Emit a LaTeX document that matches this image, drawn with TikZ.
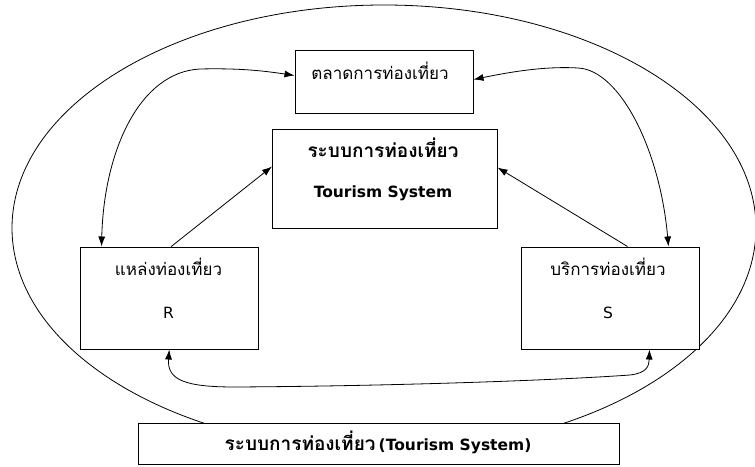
\documentclass[tikz,border=0pt]{standalone}
\usepackage{fontspec}
\setmainfont{DejaVu Sans}
\newfontfamily\thai[Script=Thai]{Loma}
\usetikzlibrary{arrows.meta,calc}
\begin{document}
\begin{tikzpicture}[x=1pt,y=-1pt,
  box/.style={draw,line width=1pt,fill=white,inner sep=0pt},
  conn/.style={line width=0.8pt,{Latex[length=10pt,width=7pt]}-{Latex[length=10pt,width=7pt]}},
  oneway/.style={line width=0.8pt,-{Latex[length=10pt,width=7pt]}},
  lbl/.style={inner sep=0pt,anchor=center},
  thr/.style={lbl,font=\thai\fontsize{17}{19}\selectfont},
  thb/.style={lbl,font=\thai\bfseries\fontsize{19}{21}\selectfont},
  lat/.style={lbl,font=\fontsize{15.5}{17}\selectfont},
  latb/.style={lbl,font=\bfseries\fontsize{15.5}{17}\selectfont}]
\useasboundingbox (0,0) rectangle (755,466);
\fill[white] (0,0) rectangle (755,466);
% outer ellipse
\draw[line width=0.8pt] (384,228) ellipse [x radius=372, y radius=223];
% boxes
\node[box,minimum width=178pt,minimum height=63pt] (market) at (384,81.5) {};
\node[box,minimum width=224.5pt,minimum height=99pt] (center) at (384.75,178.5) {};
\node[box,minimum width=178.5pt,minimum height=102pt] (R) at (169.25,298) {};
\node[box,minimum width=178pt,minimum height=102pt] (S) at (610,298) {};
\node[box,minimum width=481pt,minimum height=41pt] (bottom) at (378.5,444) {};
% texts
\node[thr] (tmarket) at (380,71) {ตลาดการท่องเที่ยว};
\node[thb] (tcenter1) at (383,148) {ระบบการท่องเที่ยว};
\node[latb] (tcenter2) at (383,193) {Tourism System};
\node[thr] (tR1) at (168.5,267) {แหล่งท่องเที่ยว};
\node[lat] (tR2) at (168.5,313) {R};
\node[thr] (tS1) at (608,267) {บริการท่องเที่ยว};
\node[lat] (tS2) at (608,313) {S};
\node[lbl] (tbottom) at (378,442) {{\thai\bfseries\fontsize{19}{21}\selectfont ระบบการท่องเที่ยว} {\bfseries\fontsize{15.5}{17}\selectfont(Tourism System)}};
% connectors
\draw[conn] ($(R.north west)+(22,0)$) .. controls (104,150) and (140,72) .. (200,69)
  .. controls (240,68) and (265,71) .. ($(market.north west)+(0,26)$);
\draw[conn] ($(market.north east)+(0,30)$) .. controls (510,72) and (545,66) .. (578,68)
  .. controls (620,70) and (660,150) .. ($(S.north west)+(148,0)$);
\draw[oneway] ($(R.north)+(2,0)$) -- ($(center.north west)+(0,38)$);
\draw[oneway] ($(S.north west)+(107,0)$) -- ($(center.north east)+(0,39)$);
\draw[conn] (R.south) .. controls (167,380) and (185,387) .. (235,387)
  .. controls (400,386) and (560,380) .. (630,375)
  .. controls (647,373) and (649,366) .. ($(S.south east)+(-50,0)$);
\end{tikzpicture}
\end{document}
